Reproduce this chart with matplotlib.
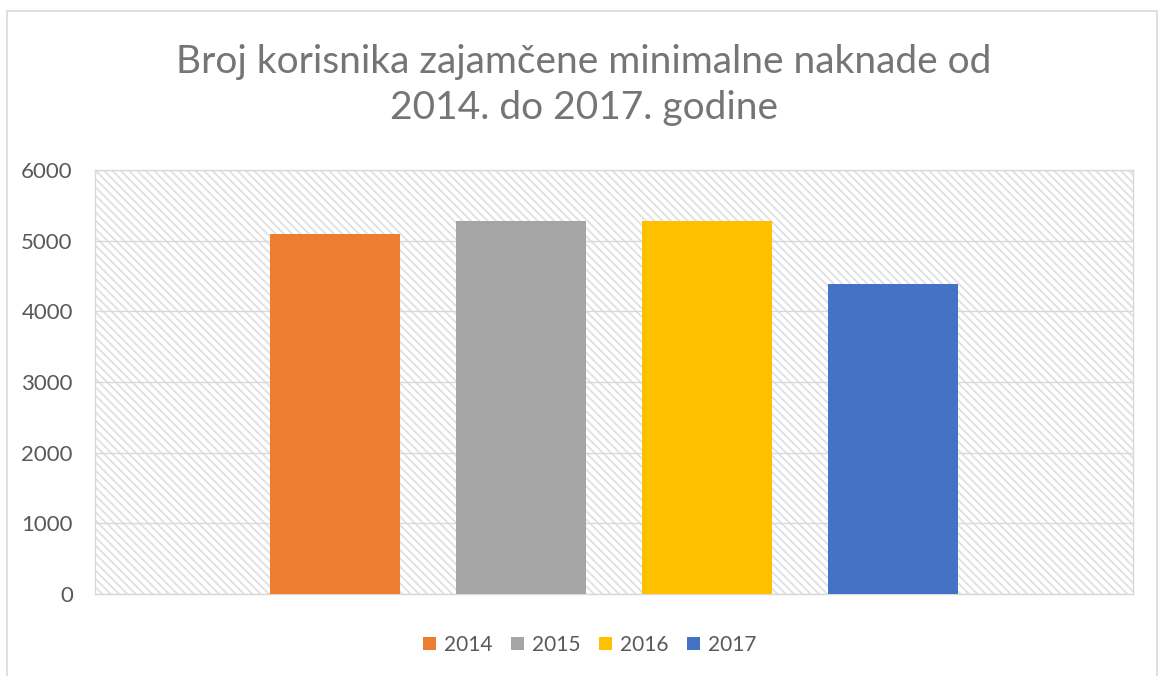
import matplotlib
matplotlib.use("Agg")
import matplotlib.pyplot as plt
from matplotlib.patches import Rectangle
import numpy as np

series = ["2014", "2015", "2016", "2017"]
values = [5095, 5280, 5280, 4390]
colors = ["#ED7D31", "#A5A5A5", "#FFC000", "#4472C4"]
yticks = [0, 1000, 2000, 3000, 4000, 5000, 6000]
title = "Broj korisnika zajamčene minimalne naknade od\n2014. do 2017. godine"

plt.rcParams['font.family'] = ['Lato', 'DejaVu Sans']
plt.rcParams['hatch.linewidth'] = 1.3
plt.rcParams['hatch.color'] = '#e0e0e0'

fig = plt.figure(figsize=(11.6, 6.76), dpi=100)
fig.patches.append(Rectangle((7/1160, -0.01), 1150/1160, (676-11)/676 + 0.01,
                             transform=fig.transFigure, fill=False,
                             edgecolor='#d9d9d9', linewidth=1.2))

ax = fig.add_axes([95/1160, (676-594)/676, 1038/1160, 424/676])
ax.patch.set_facecolor('white')
ax.patch.set_hatch('\\\\\\\\')
ax.patch.set_edgecolor('#e0e0e0')

width = 130/1038
step = 186.3/1038
n = len(series)
for i, (s, v, c) in enumerate(zip(series, values, colors)):
    off = (i - (n - 1) / 2) * step
    ax.bar(off, v, width=width, color=c, label=s, zorder=3)

ax.set_xlim(-0.5, 0.5)
ax.set_ylim(0, 6000)
ax.set_yticks(yticks)
ax.set_yticklabels([str(t) for t in yticks], fontsize=16, color='#595959')
ax.set_xticks([])
ax.tick_params(axis='y', length=0, pad=16)
ax.yaxis.grid(True, color='#d9d9d9', linewidth=1, zorder=1)
ax.set_axisbelow(True)
for sp in ax.spines.values():
    sp.set_color('#d9d9d9')
    sp.set_linewidth(1)

fig.text(584/1160, 1 - 85/676, title, ha='center', va='center', fontsize=28,
         color='#757575', linespacing=1.35)

ax.legend(loc='center', bbox_to_anchor=(590/1160, 1 - 645/676),
          bbox_transform=fig.transFigure, ncol=4, frameon=False, fontsize=15,
          handlelength=0.6, handleheight=0.6, handletextpad=0.4, columnspacing=0.9,
          labelcolor='#595959')

fig.savefig('out.png', dpi=100)
